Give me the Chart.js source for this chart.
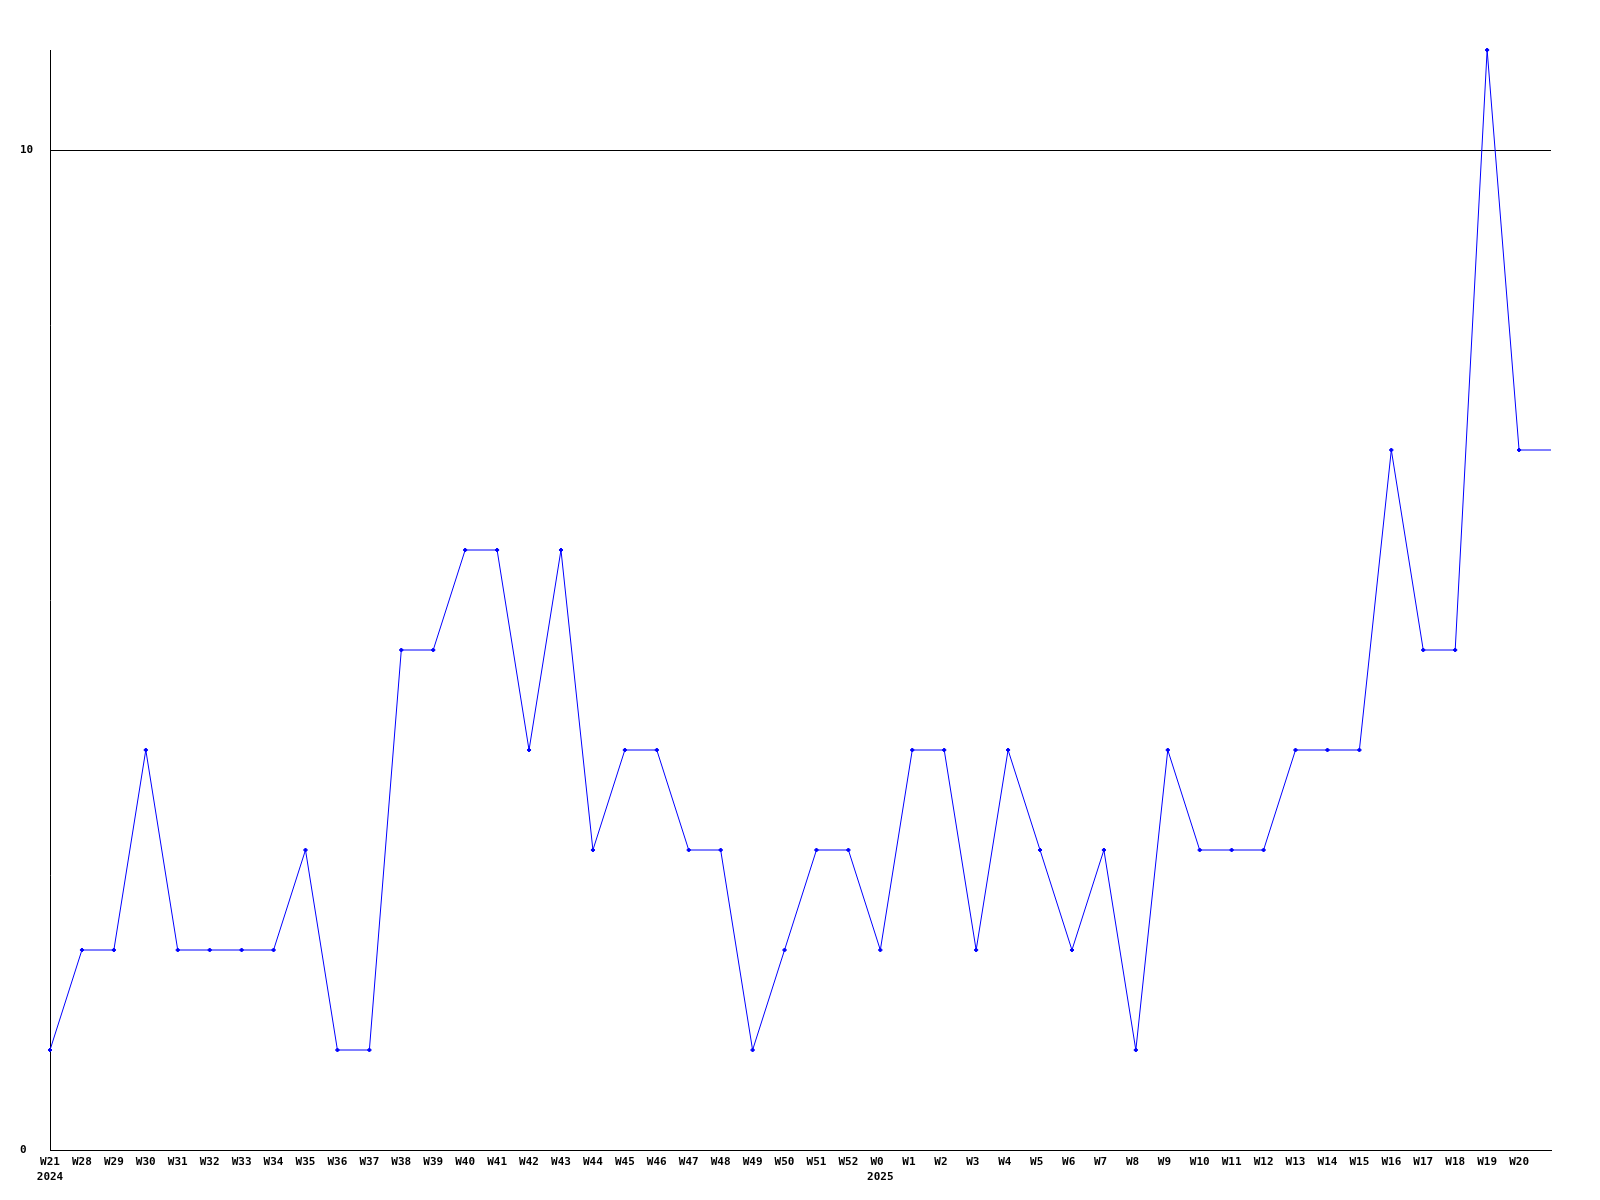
<!DOCTYPE html>
<html>
<head>
<meta charset="utf-8">
<script src="https://cdn.jsdelivr.net/npm/chart.js@4/dist/chart.umd.min.js"></script>
<style>
  html, body { margin: 0; padding: 0; background: #fff; }
  #wrap { width: 1600px; height: 1200px; }
</style>
</head>
<body>
<div id="wrap"><canvas id="weekChart" width="1600" height="1200"></canvas></div>
<script>
// weeks (2024 W21 .. 2025 W20), last point runs to the right edge without a label
var weeks = ["W21", "W28", "W29", "W30", "W31", "W32", "W33", "W34", "W35", "W36",
  "W37", "W38", "W39", "W40", "W41", "W42", "W43", "W44", "W45", "W46",
  "W47", "W48", "W49", "W50", "W51", "W52", "W0", "W1", "W2", "W3",
  "W4", "W5", "W6", "W7", "W8", "W9", "W10", "W11", "W12", "W13",
  "W14", "W15", "W16", "W17", "W18", "W19", "W20", ""];
var years = { "W21": "2024", "W0": "2025" };
var counts = [1, 2, 2, 4, 2, 2, 2, 2, 3, 1,
  1, 5, 5, 6, 6, 4, 6, 3, 4, 4,
  3, 3, 1, 2, 3, 3, 2, 4, 4, 2,
  4, 3, 2, 3, 1, 4, 3, 3, 3, 4,
  4, 4, 7, 5, 5, 11, 7, 7];
var yTicks = [0, 10];

const ctx = document.getElementById("weekChart").getContext("2d");

// labels are drawn left-aligned in the original, pad short ones so centering lines up
var labels = weeks.map(function (w) {
  var txt = w.length == 2 ? w + " " : w;
  if (years[w]) return [txt, years[w]];
  return txt;
});

var pointSizes = counts.map(function (v, i) {
  return weeks[i] === "" ? 0 : 2;
});

var monoFont = { family: "DejaVu Sans Mono", size: 11, weight: "bold", lineHeight: 1.35 };

var chart = new Chart(ctx, {
  type: "line",
  data: {
    labels: labels,
    datasets: [
      {
        data: counts,
        borderColor: "#0000ff",
        backgroundColor: "#0000ff",
        borderWidth: 1,
        tension: 0,
        clip: false,
        pointStyle: "rectRot",
        pointRadius: pointSizes,
        pointBorderWidth: 1,
      },
    ],
  },
  options: {
    responsive: false,
    animation: false,
    layout: {
      padding: { top: 50, right: 49, left: 20, bottom: 0 },
    },
    plugins: {
      legend: { display: false },
      tooltip: { enabled: false },
    },
    scales: {
      x: {
        offset: false,
        grid: { display: false, drawTicks: false },
        border: { display: true, color: "#000", width: 1 },
        ticks: {
          autoSkip: false,
          maxRotation: 0,
          minRotation: 0,
          padding: 5,
          color: "#000",
          font: monoFont,
        },
        afterFit: function (scale) {
          scale.height = 50;
        },
      },
      y: {
        min: 0,
        max: 11,
        grid: { color: "#000", lineWidth: 1, drawTicks: false },
        border: { display: true, color: "#000", width: 1 },
        ticks: {
          crossAlign: "far",
          padding: 0,
          color: "#000",
          font: monoFont,
        },
        afterBuildTicks: function (scale) {
          scale.ticks = yTicks.map(function (v) { return { value: v }; });
        },
        afterFit: function (scale) {
          scale.width = 30;
        },
      },
    },
  },
});
</script>
</body>
</html>
